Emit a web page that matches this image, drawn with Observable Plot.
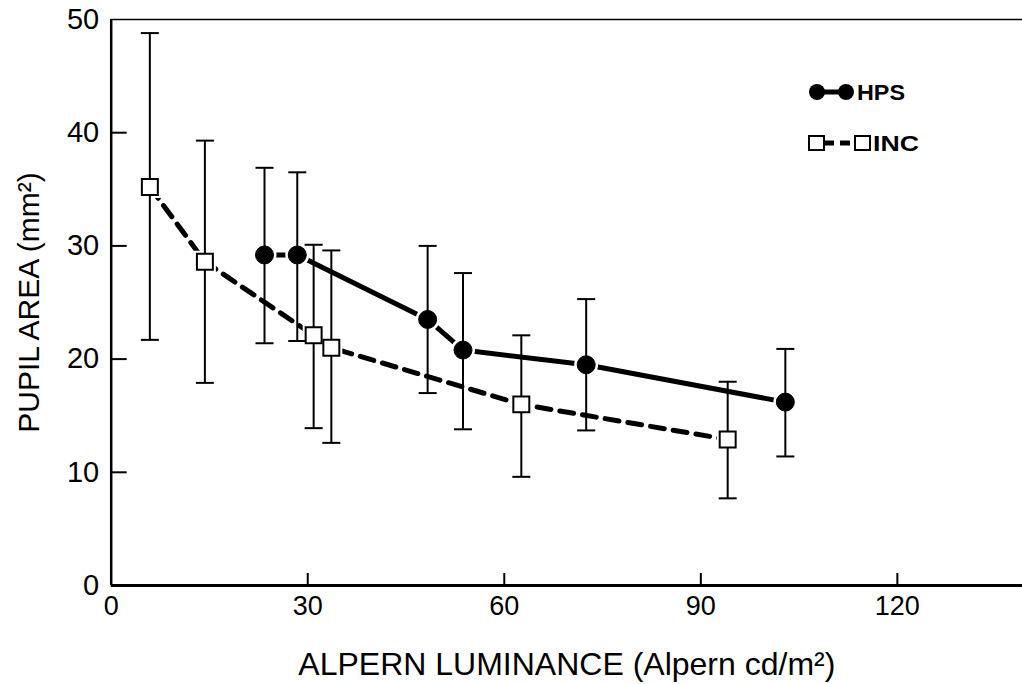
<!DOCTYPE html>
<html><head><meta charset="utf-8">
<script src="https://cdn.jsdelivr.net/npm/d3@7"></script>
<script src="https://cdn.jsdelivr.net/npm/@observablehq/plot@0.6"></script>
<style>
html,body{margin:0;padding:0;background:#fff;}
#chart{position:relative;width:1022px;height:684px;overflow:hidden;}
#legend{position:absolute;left:0;top:0;pointer-events:none;}
</style></head><body><div id="chart"></div>
<script>
// ---- data ----
const seriesNames = ["HPS", "INC"];

const hpsX  = [23.4, 28.4, 48.3, 53.7, 72.5, 102.9];
const hpsY  = [29.2, 29.2, 23.5, 20.8, 19.5, 16.2];
const hpsLo = [21.4, 21.6, 17.0, 13.8, 13.7, 11.4];
const hpsHi = [36.9, 36.5, 30.0, 27.6, 25.3, 20.9];

const incX  = [5.9, 14.3, 30.9, 33.6, 62.6, 94.1];
const incY  = [35.2, 28.6, 22.1, 21.0, 16.0, 12.9];
const incLo = [21.7, 17.9, 13.9, 12.6, 9.6, 7.7];
const incHi = [48.8, 39.3, 30.1, 29.6, 22.1, 18.0];

const xTicks = [0, 30, 60, 90, 120];
const yTicks = [0, 10, 20, 30, 40, 50];
const xDomain = [0, 139.1];
const yDomain = [0, 50];
const xLabel = "ALPERN LUMINANCE (Alpern cd/m²)";
const yLabel = "PUPIL AREA (mm²)";

// ---- build tables ----
const rows = (name, xs, ys, lo, hi) => xs.map((x, i) => ({series: name, x, y: ys[i], lo: lo[i], hi: hi[i]}));
const hps = rows(seriesNames[0], hpsX, hpsY, hpsLo, hpsHi);
const inc = rows(seriesNames[1], incX, incY, incLo, incHi);
const all = hps.concat(inc);

const W = 1022, H = 684;
const mL = 110.7, mR = 0, mT = 19, mB = 99;
const plotW = W - mL - mR, plotH = H - mT - mB;

// horizontal cap symbol for error bars (half width = r)
const cap = {draw(ctx, size) { const w = Math.sqrt(size / Math.PI); ctx.moveTo(-w, 0); ctx.lineTo(w, 0); }};

const font = "'Liberation Sans', Arial, Helvetica, sans-serif";

const chart = Plot.plot({
  width: W, height: H,
  marginLeft: mL, marginRight: mR, marginTop: mT, marginBottom: mB,
  style: {fontFamily: font, color: "black", background: "white", overflow: "visible"},
  x: {domain: xDomain, label: null},
  y: {domain: yDomain, label: null},
  marks: [
    // tick labels
    Plot.axisY({ticks: yTicks, tickSize: 0, tickPadding: 12, fontSize: 29, label: null}),
    Plot.axisX({ticks: xTicks, tickSize: 0, tickPadding: 10, fontSize: 27, label: null}),
    // axis titles
    Plot.text([yLabel], {text: d => d, frameAnchor: "left", dx: -82, rotate: -90, fontSize: 30, textAnchor: "middle", lineAnchor: "middle"}),
    Plot.text([xLabel], {text: d => d, frameAnchor: "bottom", dy: 79, fontSize: 32, textAnchor: "middle", lineAnchor: "middle"}),
    // inward ticks
    Plot.tickY(yTicks.filter(t => t > yDomain[0] && t < yDomain[1]), {y: d => d, insetRight: plotW - 16, strokeWidth: 2}),
    Plot.tickX(xTicks.filter(t => t > xDomain[0]), {x: d => d, insetTop: plotH - 12, strokeWidth: 2}),
    // frame lines
    Plot.ruleY([yDomain[1]], {strokeWidth: 1.5}),
    Plot.ruleX([xDomain[0]], {strokeWidth: 2.5}),
    Plot.ruleY([yDomain[0]], {strokeWidth: 3}),
    // series lines
    Plot.line(inc, {x: "x", y: "y", stroke: "black", strokeWidth: 5, strokeDasharray: "14,9"}),
    Plot.line(hps, {x: "x", y: "y", stroke: "black", strokeWidth: 5}),
    // white halos so lines stop short of markers
    Plot.dot(hps, {x: "x", y: "y", r: 9, fill: "white", stroke: "white", strokeWidth: 6}),
    Plot.dot(inc, {x: "x", y: "y", r: 9, symbol: "square", fill: "white", stroke: "white", strokeWidth: 6}),
    // error bars
    Plot.ruleX(all, {x: "x", y1: "lo", y2: "hi", strokeWidth: 2}),
    Plot.dot(all, {x: "x", y: "hi", symbol: cap, r: 9, stroke: "black", strokeWidth: 2, fill: "none"}),
    Plot.dot(all, {x: "x", y: "lo", symbol: cap, r: 9, stroke: "black", strokeWidth: 2, fill: "none"}),
    // markers
    Plot.dot(hps, {x: "x", y: "y", r: 9, fill: "black", stroke: "black", strokeWidth: 1}),
    Plot.dot(inc, {x: "x", y: "y", r: 9, symbol: "square", fill: "white", stroke: "black", strokeWidth: 2})
  ]
});

const host = document.getElementById("chart");
host.appendChild(chart);

// ---- legend overlay (inside the plot, upper right) ----
const ns = "http://www.w3.org/2000/svg";
const lg = document.createElementNS(ns, "svg");
lg.setAttribute("id", "legend");
lg.setAttribute("width", W);
lg.setAttribute("height", H);
const el = (tag, attrs, parent = lg) => { const e = document.createElementNS(ns, tag); for (const k in attrs) e.setAttribute(k, attrs[k]); parent.appendChild(e); return e; };
const legendLeft = 817, rowGap = 51, firstRow = 92;
seriesNames.forEach((name, i) => {
  const cy = firstRow + i * rowGap;
  const g = el("g", {transform: `translate(${legendLeft},${cy})`});
  if (i === 0) {
    el("line", {x1: 0, x2: 29, y1: 0, y2: 0, stroke: "black", "stroke-width": 5}, g);
    el("circle", {cx: 0, cy: 0, r: 8, fill: "black"}, g);
    el("circle", {cx: 29, cy: 0, r: 8, fill: "black"}, g);
  } else {
    el("line", {x1: 0, x2: 45, y1: 0, y2: 0, stroke: "black", "stroke-width": 5, "stroke-dasharray": "10,6", "stroke-dashoffset": -7}, g);
    el("rect", {x: -8, y: -7, width: 15, height: 14, fill: "white", stroke: "black", "stroke-width": 2}, g);
    el("rect", {x: 38, y: -7, width: 15, height: 14, fill: "white", stroke: "black", "stroke-width": 2}, g);
  }
  const t = el("text", {x: i === 0 ? 40 : 56, y: 0, dy: "0.36em", "font-family": font, "font-weight": "bold", "font-size": 22,
    textLength: i === 0 ? 48 : 46, lengthAdjust: "spacingAndGlyphs"}, g);
  t.textContent = name;
});
host.appendChild(lg);
</script>
</body></html>
